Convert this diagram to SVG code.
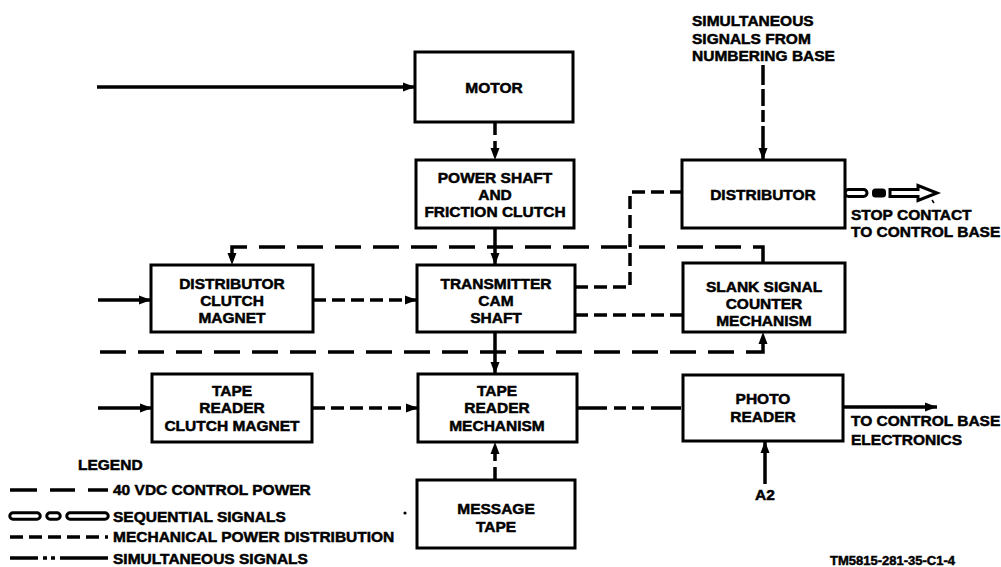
<svg xmlns="http://www.w3.org/2000/svg" width="1001" height="567" viewBox="0 0 1001 567">
<style>
.box{fill:#fff;stroke:#000;stroke-width:3}
.ln{fill:none;stroke:#000;stroke-width:3.5}
.ctl{stroke-dasharray:26 12}
.mech{stroke-dasharray:13 6}
.sim{stroke-dasharray:30 7 12 6 12 7}
text{font-family:"Liberation Sans",Arial,sans-serif;font-weight:700;font-size:15.5px;fill:#000;stroke:#000;stroke-width:0.5}
.c{text-anchor:middle}
</style>
<defs>
<marker id="ah" viewBox="0 0 12 10" refX="12" refY="5" markerWidth="12" markerHeight="10" markerUnits="userSpaceOnUse" orient="auto">
<path d="M0,0.5 L12,5 L0,9.5 z" fill="#000"/>
</marker>
</defs>
<rect width="1001" height="567" fill="#fff"/>

<g id="connectors">
<path class="ln" d="M97,87 L415,87" marker-end="url(#ah)"/>
<path class="ln mech" d="M495,122 L495,160" marker-end="url(#ah)"/>
<path class="ln" d="M495,228 L495,265" marker-end="url(#ah)"/>
<path class="ln" d="M495,332 L495,374" marker-end="url(#ah)"/>
<path class="ln mech" d="M495,480 L495,442" marker-end="url(#ah)"/>
<path class="ln" d="M98,300 L151,300" marker-end="url(#ah)"/>
<path class="ln mech" d="M313,300 L417,300" marker-end="url(#ah)"/>
<path class="ln" d="M98,408 L152,408" marker-end="url(#ah)"/>
<path class="ln mech" d="M312,408 L418,408" marker-end="url(#ah)"/>
<path class="ln ctl" d="M763,263 L763,247 L232,247 L232,265" marker-end="url(#ah)"/>
<path class="ln ctl" d="M100,352 L763,352 L763,332" marker-end="url(#ah)"/>
<path class="ln mech" d="M575,287 L630,287 L630,192 L682,192"/>
<path class="ln mech" d="M575,315 L683,315"/>
<path class="ln sim" d="M577,408 L683,408"/>
<path class="ln" d="M843,407 L937,407" marker-end="url(#ah)"/>
<path class="ln" d="M765,484 L765,441" marker-end="url(#ah)"/>
<path class="ln" style="stroke-dasharray:20 4 17 4 12 4 22 4 30" d="M763,65 L763,160" marker-end="url(#ah)"/>
<!-- sequential output from distributor -->
<rect x="845" y="189.5" width="22" height="7" rx="3.5" fill="#fff" stroke="#000" stroke-width="3"/>
<rect x="872" y="188.5" width="14" height="9" rx="3.5" fill="#000"/>
<path d="M890,189.5 L918,189.5 L918,185.5 L937,193 L918,200.5 L918,196.5 L890,196.5 Z" fill="#fff" stroke="#000" stroke-width="3" stroke-linejoin="miter"/>
</g>

<g id="motor"><rect class="box" x="415" y="52" width="158" height="70"/><text class="c" x="494" y="92.5">MOTOR</text></g>
<g id="power-shaft"><rect class="box" x="416" y="160" width="158" height="68"/>
<text class="c" x="495" y="182.5">POWER SHAFT</text><text class="c" x="495" y="199.5">AND</text><text class="c" x="495" y="216.5">FRICTION CLUTCH</text></g>
<g id="transmitter"><rect class="box" x="417" y="265" width="158" height="67"/>
<text class="c" x="496" y="288.5">TRANSMITTER</text><text class="c" x="496" y="305.5">CAM</text><text class="c" x="496" y="322.5">SHAFT</text></g>
<g id="dist-clutch"><rect class="box" x="151" y="265" width="162" height="67"/>
<text class="c" x="232" y="288.5">DISTRIBUTOR</text><text class="c" x="232" y="305.5">CLUTCH</text><text class="c" x="232" y="322.5">MAGNET</text></g>
<g id="blank-signal"><rect class="box" x="683" y="263" width="162" height="69"/>
<text class="c" x="764" y="291.5">SLANK SIGNAL</text><text class="c" x="764" y="308.5">COUNTER</text><text class="c" x="764" y="325.5">MECHANISM</text></g>
<g id="distributor"><rect class="box" x="682" y="160" width="163" height="68"/>
<text class="c" x="763" y="199.5">DISTRIBUTOR</text></g>
<g id="tape-clutch"><rect class="box" x="152" y="374" width="160" height="68"/>
<text class="c" x="232" y="395.5">TAPE</text><text class="c" x="232" y="413">READER</text><text class="c" x="232" y="430.5">CLUTCH MAGNET</text></g>
<g id="tape-mech"><rect class="box" x="418" y="374" width="159" height="68"/>
<text class="c" x="497" y="395.5">TAPE</text><text class="c" x="497" y="413">READER</text><text class="c" x="497" y="430.5">MECHANISM</text></g>
<g id="photo"><rect class="box" x="683" y="375" width="160" height="66"/>
<text class="c" x="763" y="403.5">PHOTO</text><text class="c" x="763" y="421.5">READER</text></g>
<g id="message-tape"><rect class="box" x="417" y="480" width="158" height="68"/>
<text class="c" x="496" y="513.5">MESSAGE</text><text class="c" x="496" y="531.5">TAPE</text></g>

<g id="labels">
<text x="692" y="26">SIMULTANEOUS</text>
<text x="692" y="43.5">SIGNALS FROM</text>
<text x="692" y="61">NUMBERING BASE</text>
<text x="851" y="220">STOP CONTACT</text>
<text x="851" y="237">TO CONTROL BASE</text>
<text x="851" y="426">TO CONTROL BASE</text>
<text x="851" y="445">ELECTRONICS</text>
<text class="c" x="765" y="500">A2</text>
<text x="830" y="565" style="font-size:13px">TM5815-281-35-C1-4</text>
<path d="M932,200 L934,203" stroke="#000" stroke-width="1.5"/>
<circle cx="405" cy="513" r="1.6" fill="#000"/>
</g>

<g id="legend">
<text x="78" y="470">LEGEND</text>
<path class="ln" d="M10,490 L37,490 M50,490 L75,490 M88,490 L108,490"/>
<text x="113" y="495">40 VDC CONTROL POWER</text>
<path d="M13,516 L37,516 M50,516 L57,516 M70,516 L105,516" stroke="#000" stroke-width="9.5" stroke-linecap="round" fill="none"/>
<path d="M13,516 L37,516 M50,516 L57,516 M70,516 L105,516" stroke="#fff" stroke-width="3.5" stroke-linecap="round" fill="none"/>
<text x="113" y="521.5">SEQUENTIAL SIGNALS</text>
<path class="ln mech" d="M10,537 L108,537"/>
<text x="113" y="542">MECHANICAL POWER DISTRIBUTION</text>
<path class="ln" d="M10,558 L38,558 M43,558 L47,558 M51,558 L55,558 M60,558 L108,558"/>
<text x="113" y="563.5">SIMULTANEOUS SIGNALS</text>
</g>
</svg>
